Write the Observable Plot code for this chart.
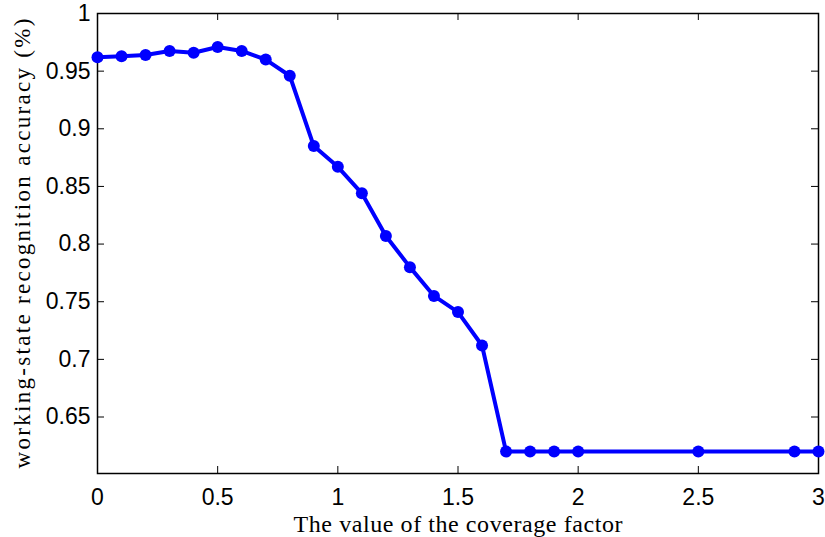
<!DOCTYPE html>
<html>
<head>
<meta charset="utf-8">
<script src="https://cdn.jsdelivr.net/npm/d3@7"></script>
<script src="https://cdn.jsdelivr.net/npm/@observablehq/plot@0.6"></script>
<style>
  html, body { margin: 0; padding: 0; background: #fff; }
  svg { display: block; }
</style>
</head>
<body>
<div id="chart"></div>
<script>
const coverage = [0, 0.1, 0.2, 0.3, 0.4, 0.5, 0.6, 0.7, 0.8, 0.9, 1.0, 1.1, 1.2, 1.3, 1.4, 1.5, 1.6, 1.7, 1.8, 1.9, 2.0, 2.5, 2.9, 3.0];
const accuracy = [0.962, 0.963, 0.964, 0.9675, 0.966, 0.971, 0.9675, 0.960, 0.946, 0.885, 0.867, 0.844, 0.807, 0.780, 0.755, 0.741, 0.712, 0.62, 0.62, 0.62, 0.62, 0.62, 0.62, 0.62];
const xTicks = [0, 0.5, 1, 1.5, 2, 2.5, 3];
const yTicks = [0.65, 0.7, 0.75, 0.8, 0.85, 0.9, 0.95, 1];
const xTitle = "The value of the coverage factor";
const yTitle = "working-state recognition accuracy (%)";

const data = coverage.map((x, i) => ({x, y: accuracy[i]}));

const W = 825, H = 537;
const mL = 97, mR = 7, mT = 13, mB = 64;
const plotH = H - mT - mB, plotW = W - mL - mR;
const tickLen = 7;

const chart = Plot.plot({
  width: W,
  height: H,
  marginLeft: mL,
  marginRight: mR,
  marginTop: mT,
  marginBottom: mB,
  style: {fontFamily: "'Liberation Sans', Arial, sans-serif", fontSize: "23px", color: "#000", background: "#fff"},
  x: {domain: [0, 3], ticks: xTicks},
  y: {domain: [0.601, 1], ticks: yTicks},
  marks: [
    Plot.axisX(xTicks, {tickSize: 0, tickPadding: 15, tickFormat: d => String(d), fontSize: 23,
      label: null}),
    Plot.axisY(yTicks, {tickSize: 0, tickPadding: 7, tickFormat: d => String(d), fontSize: 23,
      label: null}),
    // inward ticks, bottom & top
    Plot.tickX(xTicks, {x: d => d, insetTop: plotH - tickLen, stroke: "black", strokeWidth: 1}),
    Plot.tickX(xTicks, {x: d => d, insetBottom: plotH - tickLen, stroke: "black", strokeWidth: 1}),
    // inward ticks, left & right
    Plot.tickY(yTicks, {y: d => d, insetRight: plotW - tickLen, stroke: "black", strokeWidth: 1}),
    Plot.tickY(yTicks, {y: d => d, insetLeft: plotW - tickLen, stroke: "black", strokeWidth: 1}),
    Plot.frame({stroke: "black", strokeWidth: 1.5}),
    Plot.line(data, {x: "x", y: "y", stroke: "#0000ff", strokeWidth: 4}),
    Plot.dot(data, {x: "x", y: "y", r: 6, fill: "#0000ff", stroke: "none"}),
    Plot.text([xTitle], {
      frameAnchor: "bottom", dy: 51, text: d => d, fontFamily: "'Liberation Serif', 'Times New Roman', serif",
      fontSize: 24, fill: "black", lineAnchor: "middle"
    }),
    Plot.text([yTitle], {
      frameAnchor: "left", dx: -75, rotate: -90, text: d => d, fontFamily: "'Liberation Serif', 'Times New Roman', serif",
      fontSize: 23, fill: "black", lineAnchor: "middle", textAnchor: "middle"
    })
  ]
});
document.getElementById("chart").appendChild(chart);
// stretch axis titles to the reference's lengths
d3.select(chart).selectAll("text").each(function() {
  const t = this.textContent;
  if (t === xTitle) { this.setAttribute("textLength", 329); this.setAttribute("lengthAdjust", "spacing"); }
  if (t === yTitle) { this.setAttribute("textLength", 450); this.setAttribute("lengthAdjust", "spacing"); }
});
</script>
</body>
</html>
